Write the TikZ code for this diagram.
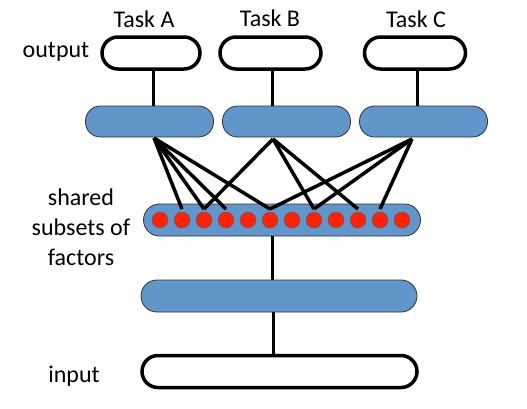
\documentclass[tikz,border=0pt]{standalone}
\usepackage{fontspec}
\setmainfont{Carlito}
\usepackage{tikz}
\tikzset{>=latex}
\usetikzlibrary{calc}
\definecolor{layerblue}{HTML}{6096C9}
\definecolor{factorred}{HTML}{FF2200}
\tikzset{
  iobox/.style={draw, line width=3.5pt, fill=white, rounded corners=16pt,
    minimum height=32pt, inner sep=0pt},
  hidbox/.style={draw=black!80, line width=0.8pt, fill=layerblue, rounded corners=15pt,
    minimum height=31pt, inner sep=0pt},
  factor/.style={circle, fill=factorred, draw=layerblue!70!black, line width=0.4pt,
    minimum size=16pt, inner sep=0pt},
  link/.style={line width=3.5pt},
  label/.style={font=\fontsize{24}{30}\selectfont, align=center}
}

\begin{document}
\begin{tikzpicture}[x=1pt, y=-1pt]
                \useasboundingbox (0, 0) rectangle (527, 408);
                % output layer
                \node[iobox, minimum width=98pt] (outA) at (151, 53) {};
                \node[iobox, minimum width=101pt] (outB) at (270.5, 53) {};
                \node[iobox, minimum width=101pt] (outC) at (415, 53) {};
                \node[label] (taskA) at (144, 19) {Task A};
                \node[label] (taskB) at (270, 18) {Task B};
                \node[label] (taskC) at (416, 19) {Task C};
                \node[label] (outlab) at (56, 52) {output};
                % task specific layer
                \node[hidbox, minimum width=128pt] (hidA) at (149.5, 121.5) {};
                \node[hidbox, minimum width=128pt] (hidB) at (286.5, 121.5) {};
                \node[hidbox, minimum width=128pt] (hidC) at (423.5, 121.5) {};
                \draw[link, line width=3pt] (153, 71) -- (153, 106);
                \draw[link, line width=3pt] (272, 71) -- (272, 106);
                \draw[link, line width=3pt] (417, 71) -- (417, 106);
                % shared factors
                \node[hidbox, minimum width=277pt, minimum height=32pt, rounded corners=16pt] (shared) at (282, 220) {};
                \coordinate (fanA) at (154, 138);
                \coordinate (fanB) at (273, 139);
                \coordinate (fanC) at (412, 139);
                \foreach \i in {1, ..., 12} {
                    \coordinate (t\i) at ({160 + 22*(\i-1)}, 209);
                }
                \foreach \s/\t in {A/2, A/3, A/4, A/6, B/3, B/8, B/10, C/6, C/8, C/11} {
                    \draw[link] (fan\s) -- (t\t);
                }
                \foreach \i in {1, ..., 12} {
                    \node[factor] (d\i) at ({160 + 22*(\i-1)}, 220) {};
                }
                \node[label] (sharedlab) at (81, 227) {shared\\subsets of\\factors};
                % bottom layers
                \node[hidbox, minimum width=276pt, minimum height=32pt, rounded corners=16pt] (low) at (279, 296) {};
                \node[iobox, minimum width=275pt] (inp) at (279.5, 371.5) {};
                \draw[link, line width=3pt] (shared.south -| 272, 0) -- (low.north -| 272, 0);
                \draw[link, line width=3pt] (low.south -| 273, 0) -- (inp.north -| 273, 0);
                \node[label] (inlab) at (74, 376) {input};
            \end{tikzpicture}
\end{document}
